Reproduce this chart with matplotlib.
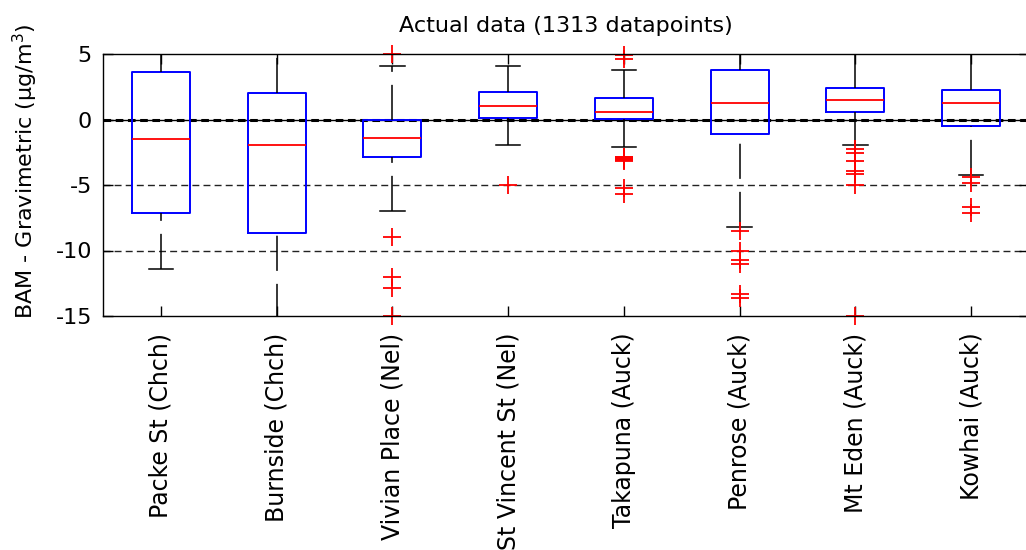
import numpy as np
import matplotlib
matplotlib.use("Agg")
import matplotlib.pyplot as plt

# site names and box statistics
sites = ['Packe St (Chch)', 'Burnside (Chch)', 'Vivian Place (Nel)',
         'St Vincent St (Nel)', 'Takapuna (Auck)', 'Penrose (Auck)',
         'Mt Eden (Auck)', 'Kowhai (Auck)']
q1 = [-7.14, -8.64, -2.89, 0.11, 0.06, -1.11, 0.60, -0.50]
med = [-1.51, -1.97, -1.39, 1.06, 0.60, 1.23, 1.49, 1.23]
q3 = [3.63, 2.00, -0.05, 2.10, 1.64, 3.78, 2.38, 2.25]
whislo = [-11.39, -15.2, -7.01, -1.97, -2.12, -8.23, -1.97, -4.24]
whishi = [8.0, 8.0, 4.08, 4.08, 3.78, 8.0, 8.0, 8.0]
outliers = [
    [],
    [],
    [5.0, -8.94, -12.0, -12.89, -15.0],
    [-5.0],
    [4.95, 4.65, -2.85, -2.9, -2.95, -3.0, -3.05, -3.1, -3.15, -5.25, -5.69],
    [-8.5, -10.0, -10.75, -11.0, -13.3, -13.6],
    [-2.27, -2.58, -3.17, -3.91, -4.16, -5.0, -15.0],
    [-4.37, -4.87, -6.65, -7.11],
]
ref_lines = [0, -5, -10]
yticks = [-15, -10, -5, 0, 5]

FS = 16


def main():
    fig = plt.figure(figsize=(10.26, 5.5), dpi=100)
    ax = fig.add_axes([103 / 1026, 234 / 550, 926 / 1026, 262 / 550])

    # horizontal reference lines
    ax.axhline(0, color='k', lw=1.0, zorder=1)
    for yv in ref_lines:
        if yv == 0:
            ax.axhline(yv, color='k', lw=2.2, ls=(0, (2.5, 1.5)), zorder=1)
        else:
            ax.axhline(yv, color='#222222', lw=1.0, ls=(0, (5, 3)), zorder=1)

    stats = []
    for i in range(len(sites)):
        stats.append(dict(q1=q1[i], med=med[i], q3=q3[i],
                          whislo=whislo[i], whishi=whishi[i],
                          fliers=np.array(outliers[i]), label=sites[i]))

    pos = np.arange(1, len(sites) + 1)
    bp = ax.bxp(stats, positions=pos, widths=0.5, capwidths=0.21,
                boxprops=dict(color='blue', lw=1.4),
                medianprops=dict(color='red', lw=1.3),
                whiskerprops=dict(color='black', lw=1.1, linestyle=(0, (23, 8.5))),
                capprops=dict(color='black', lw=1.1),
                flierprops=dict(marker='+', markeredgecolor='red',
                                markersize=13, markeredgewidth=1.3,
                                linestyle='none'),
                manage_ticks=False)

    # lower whiskers start their dash pattern at the whisker end
    for w in bp['whiskers'][0::2]:
        w.set_ydata(w.get_ydata()[::-1])
        w.set_xdata(w.get_xdata()[::-1])
    for f in bp['fliers']:
        f.set_clip_on(False)

    ax.set_xlim(0.5, len(sites) + 0.5)
    ax.set_ylim(-15, 5)
    ax.set_xticks(pos)
    ax.set_xticklabels(sites, rotation=90, fontsize=17)
    ax.set_yticks(yticks)
    ax.set_yticklabels([str(t) for t in yticks], fontsize=FS)
    ax.tick_params(axis='both', direction='in', length=7, width=1.0,
                   top=True, right=True)
    ax.tick_params(axis='x', pad=12)
    ax.tick_params(axis='y', pad=8)
    for s in ax.spines.values():
        s.set_linewidth(1.0)

    ax.set_title('Actual data (1313 datapoints)', fontsize=FS, pad=15.5)
    fig.text(25 / 1026, 1 - 171 / 550, 'BAM - Gravimetric (μg/m$^3$)',
             rotation=90, ha='center', va='center', fontsize=FS)

    fig.savefig('out.png', dpi=100)


if __name__ == "__main__":
    main()
